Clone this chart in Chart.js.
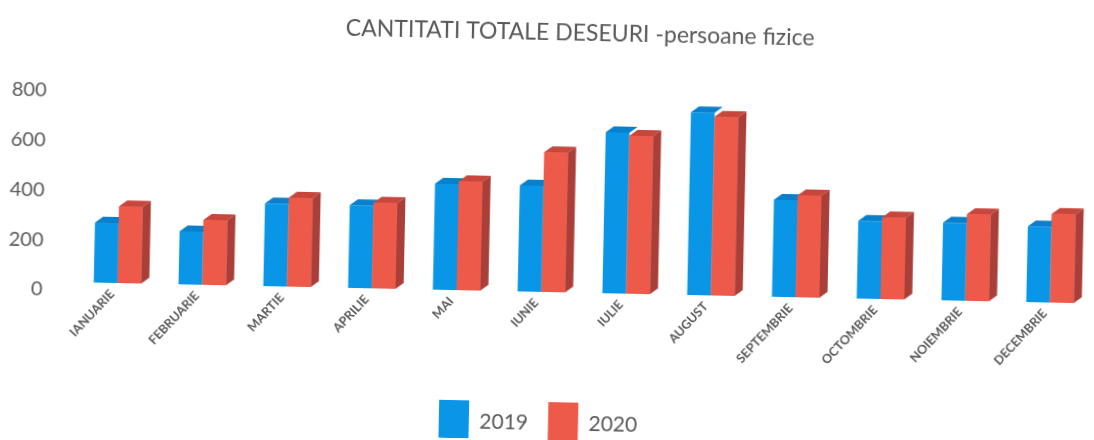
<!DOCTYPE html>
<html>
<head>
<meta charset="utf-8">
<script src="https://cdn.jsdelivr.net/npm/chart.js@4/dist/chart.umd.min.js"></script>
<style>
  html, body { margin: 0; padding: 0; background: #ffffff; overflow: hidden; }
  #wrap { position: relative; width: 1094px; height: 440px; }
  #c { transform: rotate(1.2deg); transform-origin: 50% 50%; }
</style>
</head>
<body>
<div id="wrap"><canvas id="c"></canvas></div>
<script>
const categories = ['IANUARIE','FEBRUARIE','MARTIE','APRILIE','MAI','IUNIE','IULIE','AUGUST','SEPTEMBRIE','OCTOMBRIE','NOIEMBRIE','DECEMBRIE'];
const seriesNames = ['2019', '2020'];
const values2019 = [241, 213, 333, 333, 426, 426, 647, 735, 390, 313, 313, 305];
const values2020 = [309, 261, 358, 345, 438, 562, 635, 719, 410, 329, 349, 357];
const yMin = 0, yMax = 800, yStep = 200;

const BLUE = '#0996e6', BLUE_TOP = '#0a7fcb';
const RED = '#ee5a4a', RED_TOP = '#c7473d', RED_SIDE = '#a93f38';
const TXT = '#595959';
const FONT = 'Lato, "Open Sans", sans-serif';

const bar3d = {
  id: 'bar3d',
  afterDatasetsDraw(chart) {
    const ctx = chart.ctx;
    const m0 = chart.getDatasetMeta(0), m1 = chart.getDatasetMeta(1);
    const dx = 8, dy = 6;
    const top = (b, col) => {
      const L = b.x - b.width / 2, R = b.x + b.width / 2;
      ctx.fillStyle = col;
      ctx.beginPath();
      ctx.moveTo(L, b.y); ctx.lineTo(R, b.y); ctx.lineTo(R + dx, b.y - dy); ctx.lineTo(L + dx, b.y - dy);
      ctx.closePath(); ctx.fill();
    };
    const side = (b, col) => {
      const R = b.x + b.width / 2;
      ctx.fillStyle = col;
      ctx.beginPath();
      ctx.moveTo(R, b.y); ctx.lineTo(R + dx, b.y - dy); ctx.lineTo(R + dx, b.base - dy); ctx.lineTo(R, b.base);
      ctx.closePath(); ctx.fill();
    };
    ctx.save();
    m0.data.forEach((b0, i) => {
      const b1 = m1.data[i];
      top(b0, BLUE_TOP);
      b1.draw(ctx);
      top(b1, RED_TOP);
      side(b1, RED_SIDE);
    });
    ctx.restore();
  }
};

const blockShift = {
  id: 'blockShift',
  afterLayout(chart) {
    const lg = chart.legend;
    if (lg) { lg.left -= 18; lg.right -= 18; }
    const tb = chart.titleBlock;
    if (tb) { tb.left += 16; tb.right += 16; }
  }
};

new Chart(document.getElementById('c'), {
  type: 'bar',
  data: {
    labels: categories,
    datasets: [
      { label: seriesNames[0], data: values2019, backgroundColor: BLUE, borderWidth: 0, barPercentage: 1.0, categoryPercentage: 0.56 },
      { label: seriesNames[1], data: values2020, backgroundColor: RED, borderWidth: 0, barPercentage: 1.0, categoryPercentage: 0.56 }
    ]
  },
  options: {
    responsive: true,
    maintainAspectRatio: false,
    animation: false,
    layout: { padding: { left: 0, right: -26.5, top: 0, bottom: -14 } },
    plugins: {
      title: {
        display: true,
        text: 'CANTITATI TOTALE DESEURI -persoane fizice',
        color: TXT,
        font: { family: FONT, size: 23, weight: 'normal', lineHeight: 1.2 },
        padding: { top: 19, bottom: 46.4 }
      },
      legend: {
        position: 'bottom',
        labels: {
          color: TXT,
          font: { family: FONT, size: 21 },
          boxWidth: 30,
          boxHeight: 42,
          padding: 20
        }
      },
      tooltip: { enabled: false }
    },
    scales: {
      x: {
        grid: { display: false, drawTicks: false },
        border: { display: false },
        ticks: {
          color: TXT,
          font: { family: FONT, size: 12.5, weight: 'bold' },
          maxRotation: 48,
          minRotation: 48,
          padding: 4,
          labelOffset: -5,
          autoSkip: false
        },
        afterFit(axis) { axis.height = 90; }
      },
      y: {
        min: yMin, max: yMax,
        grid: { display: false, drawTicks: false },
        border: { display: false },
        ticks: {
          stepSize: yStep,
          color: TXT,
          font: { family: FONT, size: 20 },
          padding: 32.5,
          labelOffset: 8
        },
        afterFit(axis) { axis.width = 76.5; }
      }
    }
  },
  plugins: [bar3d, blockShift]
});
</script>
</body>
</html>
